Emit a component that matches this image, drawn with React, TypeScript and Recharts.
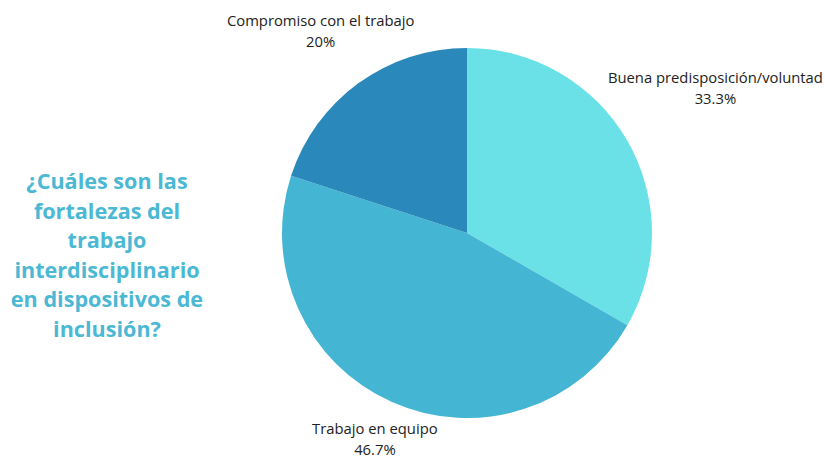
import React from "react";
import { PieChart, Pie, Cell } from "recharts";

const categories = ["Buena predisposición/voluntad", "Trabajo en equipo", "Compromiso con el trabajo"];
const values = [33.3, 46.7, 20];
const valueLabels = ["33.3%", "46.7%", "20%"];
const colors = ["#6AE1E6", "#45B5D4", "#2A88BA"];
const titleLines = ["¿Cuáles son las", "fortalezas del", "trabajo", "interdisciplinario", "en dispositivos de", "inclusión?"];
const labelOffsets = [102, 42, 64];

const data = categories.map((name, i) => ({ name, value: values[i], label: valueLabels[i] }));

const RAD = Math.PI / 180;

const renderLabel = (props: any) => {
  const { cx, cy, midAngle, outerRadius, index } = props;
  const r = outerRadius + labelOffsets[index];
  const x = cx + r * Math.cos(-midAngle * RAD);
  const y = cy + r * Math.sin(-midAngle * RAD);
  return (
    <text x={x} y={y} textAnchor="middle" fontFamily="'Open Sans', sans-serif" fontSize={14.8} fill="#222">
      <tspan x={x} dy={-6}>{data[index].name}</tspan>
      <tspan x={x} dy={21}>{data[index].label}</tspan>
    </text>
  );
};

export default function App() {
  return (
    <div style={{ position: "absolute", left: 0, top: 0, width: 825, height: 457, background: "#fff" }}>
      <div
        style={{
          position: "absolute",
          left: 2,
          top: 166,
          width: 210,
          textAlign: "center",
          fontFamily: "'Open Sans', sans-serif",
          fontWeight: 700,
          fontSize: 21.6,
          lineHeight: "29.6px",
          color: "#4BB8D4",
        }}
      >
        {titleLines.map((l, i) => (
          <div key={i}>{l}</div>
        ))}
      </div>
      <PieChart
        width={825}
        height={457}
        margin={{ top: 0, right: 0, bottom: 0, left: 0 }}
        style={{ position: "absolute", left: 0, top: 0 }}
      >
        <Pie
          data={data}
          dataKey="value"
          nameKey="name"
          cx={467}
          cy={233}
          outerRadius={185}
          startAngle={90}
          endAngle={-270}
          stroke="none"
          label={renderLabel}
          labelLine={false}
          isAnimationActive={false}
        >
          {data.map((d, i) => (
            <Cell key={d.name} fill={colors[i]} />
          ))}
        </Pie>
      </PieChart>
    </div>
  );
}
